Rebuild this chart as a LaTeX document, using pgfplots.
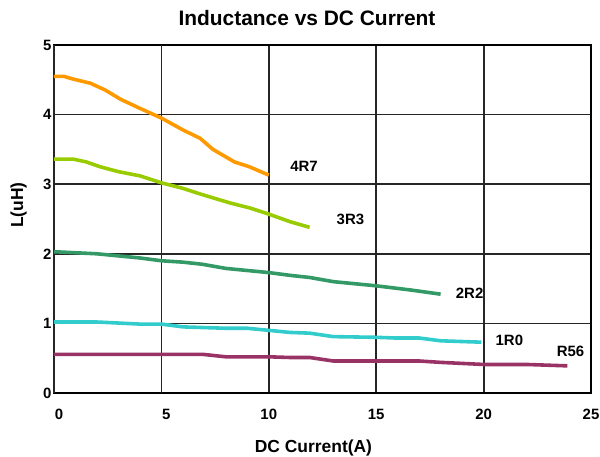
\documentclass[border=0pt]{standalone}
\usepackage{pgfplots}
\pgfplotsset{compat=1.18}
\usepackage{fontspec}
\setmainfont{Liberation Sans}
\definecolor{c4r7}{HTML}{FF9900}
\definecolor{c3r3}{HTML}{99CC00}
\definecolor{c2r2}{HTML}{339966}
\definecolor{c1r0}{HTML}{33CCCC}
\definecolor{cr56}{HTML}{993366}
\begin{document}
\begin{tikzpicture}
\useasboundingbox (-54bp,-64bp) rectangle (546bp,393bp);
\begin{axis}[
  scale only axis,
  width=537bp, height=348bp,
  xmin=0, xmax=25, ymin=0, ymax=5,
  xtick={10,15,20,25}, ytick={0,1,...,5},
  extra x ticks={0,5},
  extra x tick style={grid=major, xticklabel style={xshift=5bp}},
  grid=major,
  major grid style={black!85, line width=1.8pt},
  axis line style={black, line width=1.8pt},
  major tick length=0pt,
  /pgf/number format/assume math mode=true,
  tick label style={font=\fontsize{15}{17}\selectfont\bfseries},
  xticklabel style={anchor=base, yshift=-26bp},
  yticklabel style={anchor=east, xshift=1bp},
  title={\fontsize{21}{24}\selectfont\bfseries Inductance vs DC Current},
  title style={at={(0.4711,1.0402)}, anchor=base},
  xlabel={\fontsize{17.5}{20}\selectfont\bfseries DC Current(A)},
  ylabel={\fontsize{17.5}{20}\selectfont\bfseries L(uH)},
  xlabel style={at={(0.4832,-0.1724)}, anchor=base},
  ylabel style={at={(-0.0577,0.540)}, anchor=base},
  every axis plot/.append style={line width=3.6pt, no markers},
  clip=false,
]
\addplot[c4r7] coordinates {(0,4.55) (0.45,4.55) (0.9,4.51) (1.7,4.45) (2.4,4.35) (3.1,4.22) (4,4.09) (5,3.95) (6,3.78) (6.8,3.66) (7.4,3.50) (8.4,3.32) (9.1,3.25) (10,3.13)};
\addplot[c3r3] coordinates {(0,3.36) (0.9,3.36) (1.5,3.32) (2.15,3.25) (3,3.18) (4,3.12) (5,3.02) (6,2.94) (6.8,2.86) (8.2,2.73) (9.1,2.66) (10,2.57) (11,2.46) (11.9,2.38)};
\addplot[c2r2] coordinates {(0,2.03) (2,2.00) (4,1.94) (5,1.90) (6,1.88) (6.9,1.85) (8,1.79) (9,1.76) (10,1.73) (11,1.69) (11.9,1.66) (13,1.60) (15,1.54) (16.6,1.48) (18,1.42)};
\addplot[c1r0] coordinates {(0,1.02) (2,1.02) (4,0.99) (5,0.99) (6,0.95) (8,0.93) (9,0.93) (10,0.90) (11,0.87) (11.9,0.86) (13,0.81) (15,0.80) (15.9,0.79) (17,0.79) (18,0.75) (19.9,0.73)};
\addplot[cr56] coordinates {(0,0.556) (5,0.556) (6.9,0.556) (8,0.52) (10,0.52) (11,0.51) (11.9,0.51) (13,0.46) (15,0.46) (17,0.46) (18,0.44) (20,0.41) (22,0.41) (23.9,0.39)};
\begin{scope}[every node/.style={font=\fontsize{15}{17}\selectfont\bfseries}]
\node at (axis cs:11.64,3.25) {4R7};
\node at (axis cs:13.8,2.49) {3R3};
\node at (axis cs:19.35,1.43) {2R2};
\node at (axis cs:21.2,0.76) {1R0};
\node at (axis cs:24.05,0.60) {R56};
\end{scope}
\end{axis}
\end{tikzpicture}
\end{document}
